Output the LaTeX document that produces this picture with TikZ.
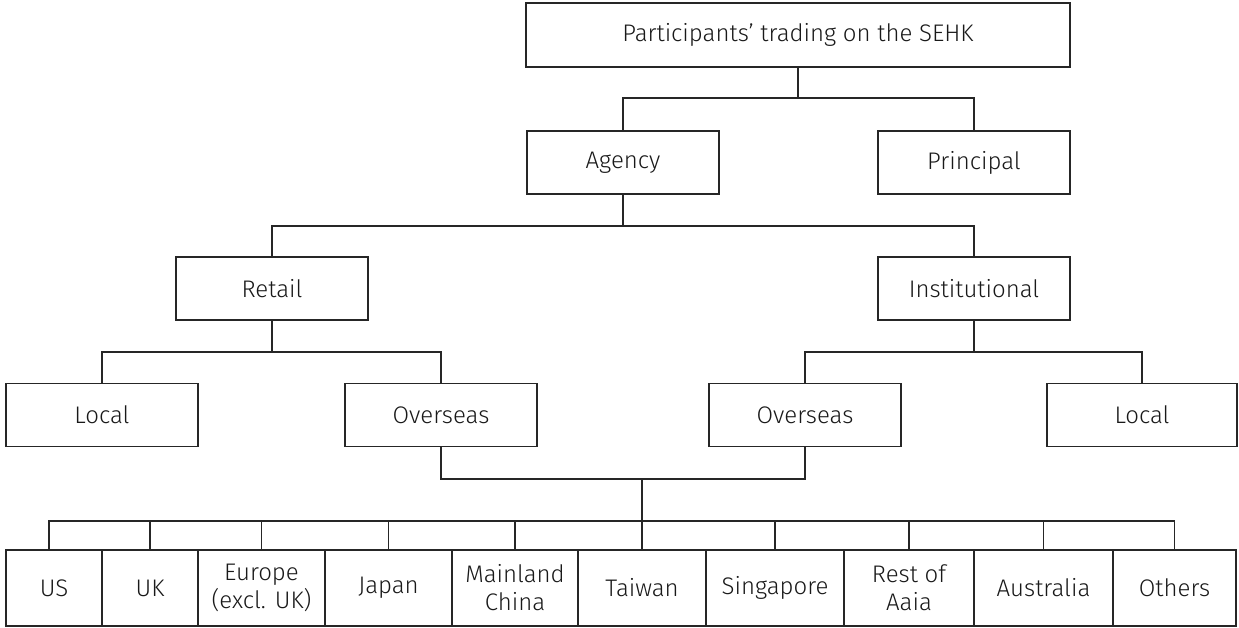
\documentclass[tikz,border=0pt]{standalone}
\usepackage{fontspec}
\setmainfont{Fira Sans Light}
\begin{document}
\begin{tikzpicture}[x=0.75pt,y=-0.75pt,
  box/.style={draw=black!85, line width=0.9pt, inner sep=0pt, align=center,
    font=\fontsize{18}{21}\selectfont, text=black!90},
  mid/.style={box, minimum width=192*0.75pt, minimum height=63*0.75pt},
  leaf/.style={box, minimum height=76*0.75pt},
  conn/.style={draw=black!85, line width=0.9pt}]
\useasboundingbox (0,0) rectangle (1239,628);
\node[box, minimum width=544*0.75pt, minimum height=64*0.75pt] (top) at (798,35) {Participants’ trading on the SEHK};
\node[mid] (agency) at (623,162.5) {Agency};
\node[mid] (principal) at (974,162.5) {Principal};
\node[mid] (retail) at (272,288.5) {Retail};
\node[mid] (inst) at (974,288.5) {Institutional};
\node[mid] (local1) at (102,415) {Local};
\node[mid] (over1) at (441,415) {Overseas};
\node[mid] (over2) at (805,415) {Overseas};
\node[mid, minimum width=190*0.75pt] (local2) at (1142,415) {Local};
% bottom row
\node[leaf, minimum width=96*0.75pt] (us) at (54,588) {US};
\node[leaf, minimum width=96*0.75pt] (uk) at (150,588) {UK};
\node[leaf, minimum width=127*0.75pt] (eu) at (261.5,588) {Europe\\(excl. UK)};
\node[leaf, minimum width=127*0.75pt] (jp) at (388.5,588) {Japan};
\node[leaf, minimum width=126*0.75pt] (cn) at (515,588) {Mainland\\China};
\node[leaf, minimum width=128*0.75pt] (tw) at (642,588) {Taiwan};
\node[leaf, minimum width=138*0.75pt] (sg) at (775,588) {Singapore};
\node[leaf, minimum width=130*0.75pt] (ra) at (909,588) {Rest of\\Aaia};
\node[leaf, minimum width=139*0.75pt] (au) at (1043.5,588) {Australia};
\node[leaf, minimum width=123*0.75pt] (ot) at (1174.5,588) {Others};
% junctions
\coordinate (j1) at (798,98);
\coordinate (j2) at (623,226);
\coordinate (j3) at (272,352);
\coordinate (j4) at (974,352);
\coordinate (j5) at (642,479);
\coordinate (bus) at (642,521);
\draw[conn] (top.south) -- (j1);
\draw[conn] (agency.north) |- (j1) -| (principal.north);
\draw[conn] (agency.south) -- (j2);
\draw[conn] (retail.north) |- (j2) -| (inst.north);
\draw[conn] (retail.south) -- (j3);
\draw[conn] (local1.north) |- (j3) -| (over1.north);
\draw[conn] (inst.south) -- (j4);
\draw[conn] (over2.north) |- (j4) -| (local2.north);
\draw[conn] (over1.south) |- (j5) -| (over2.south);
\draw[conn] (j5) -- (tw.north);
\draw[conn] ([xshift=-5*0.75pt]us.north) |- (bus) -| (ot.north);
\foreach \n in {uk,eu,jp,cn,sg,ra,au} \draw[conn] (\n.north) -- ++(0,-29);
\end{tikzpicture}
\end{document}
